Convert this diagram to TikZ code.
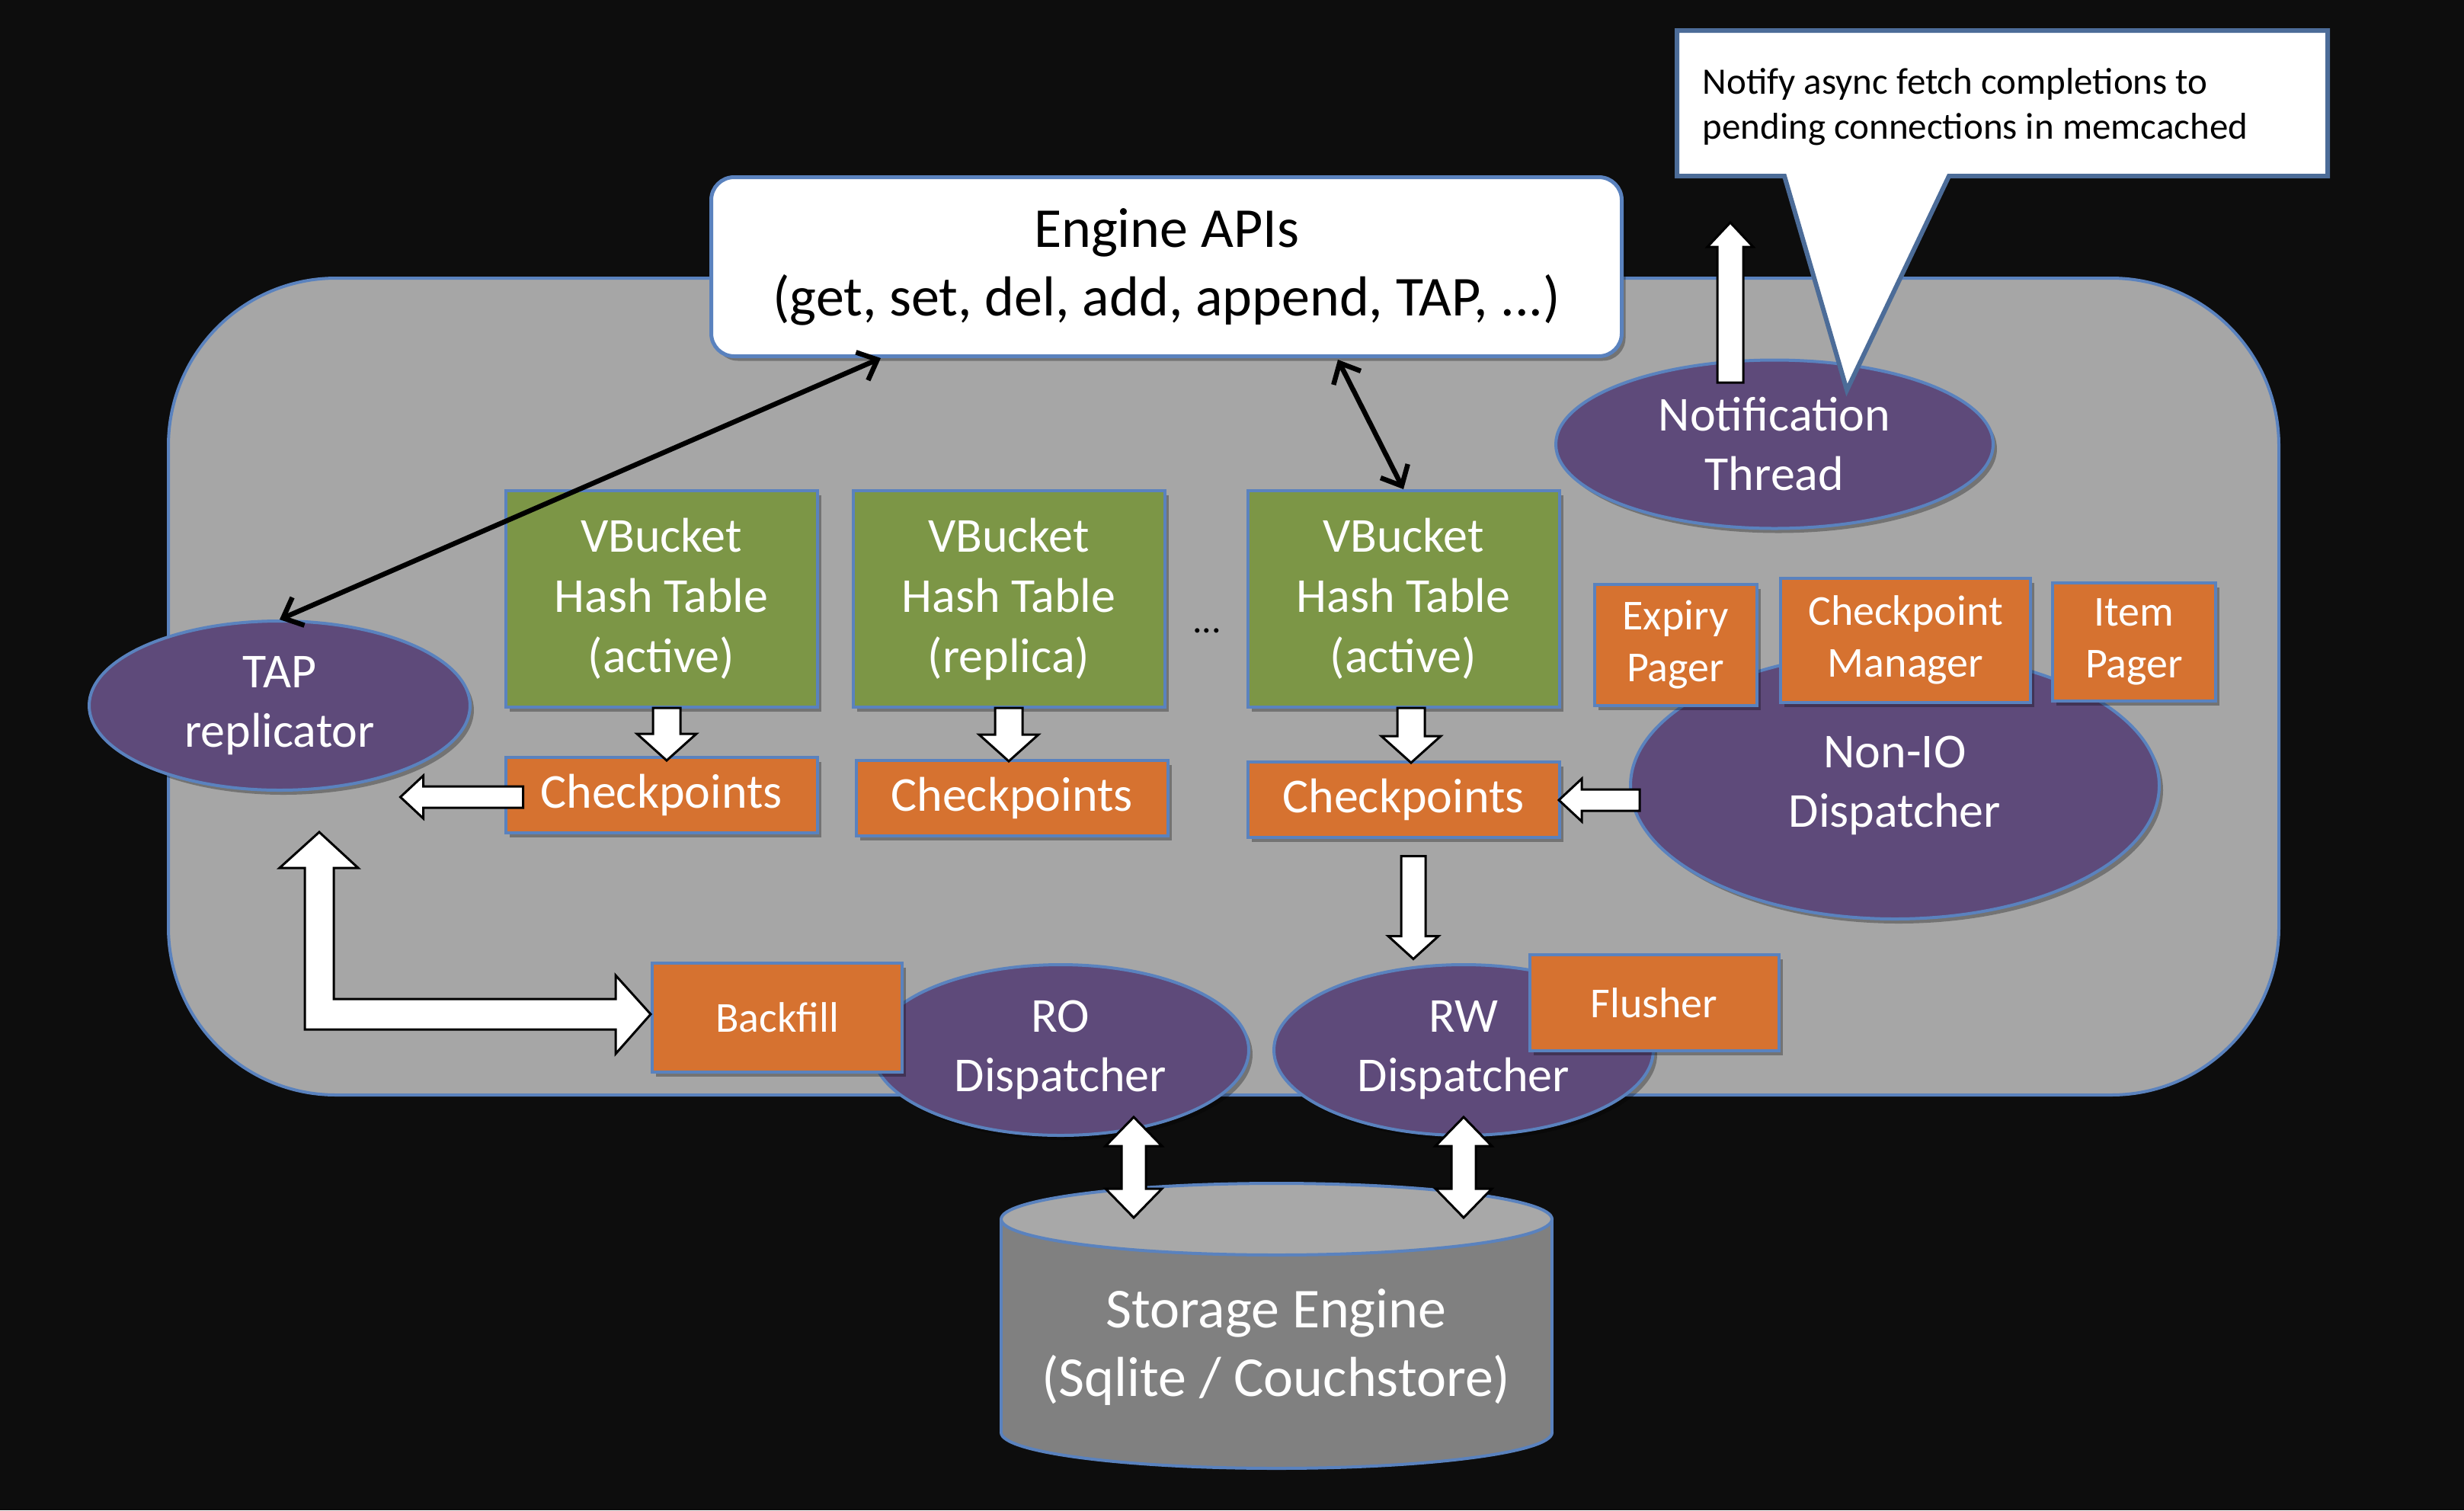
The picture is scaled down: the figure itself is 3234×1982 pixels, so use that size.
\documentclass[tikz,border=0pt]{standalone}
\usepackage{fontspec}
\setmainfont{Carlito}
\usetikzlibrary{shapes.geometric,arrows.meta,shadows,calc}
\definecolor{bgblack}{HTML}{0D0D0D}
\definecolor{panelgray}{HTML}{A6A6A6}
\definecolor{bordblue}{HTML}{5A82BE}
\definecolor{callblue}{HTML}{4C6C98}
\definecolor{purp}{HTML}{5E4A7A}
\definecolor{olive}{HTML}{7C9646}
\definecolor{orng}{HTML}{D67230}
\definecolor{cyltopc}{HTML}{A8A8A8}
\definecolor{cylbodyc}{HTML}{808080}
% block arrow: start coord, angle, length, shaft half width, head half width, head length
\newcommand{\blkarr}[6]{%
  \draw[blockarrow, shift={#1}, rotate=#2] (0,-#4) -- ({#3-#6},-#4) -- ({#3-#6},-#5) -- (#3,0) -- ({#3-#6},#5) -- ({#3-#6},#4) -- (0,#4) -- cycle;}
\newcommand{\dblarr}[6]{%
  \draw[blockarrow, shift={#1}, rotate=#2] (0,0) -- (#6,-#5) -- (#6,-#4) -- ({#3-#6},-#4) -- ({#3-#6},-#5) -- (#3,0) -- ({#3-#6},#5) -- ({#3-#6},#4) -- (#6,#4) -- (#6,#5) -- cycle;}
\begin{document}
\begin{tikzpicture}[x=1pt,y=-1pt,
  shadowed/.style={drop shadow={shadow xshift=5pt,shadow yshift=-6pt,opacity=0.3,fill=black}},
  panelbox/.style={rectangle, rounded corners=220pt, fill=panelgray, draw=bordblue, line width=4pt, minimum width=2770pt, minimum height=1072pt, inner sep=0pt},
  apibox/.style={rectangle, rounded corners=30pt, fill=white, draw=bordblue, line width=5pt, minimum width=1195pt, minimum height=235pt, align=center, font=\fontsize{74}{90}\selectfont, shadowed},
  purpell/.style={ellipse, fill=purp, draw=bordblue, line width=4pt, inner sep=0pt, text=white, align=center, font=\fontsize{64}{78}\selectfont, shadowed},
  vbbox/.style={rectangle, fill=olive, draw=bordblue, line width=4pt, minimum width=409pt, minimum height=284pt, inner sep=0pt, text=white, align=center, font=\fontsize{64}{79}\selectfont, shadowed},
  orbox/.style={rectangle, fill=orng, draw=bordblue, line width=4pt, inner sep=0pt, text=white, align=center, shadowed},
  chkbox/.style={orbox, minimum width=409pt, minimum height=99pt, font=\fontsize{64}{78}\selectfont},
  smallbox/.style={orbox, font=\fontsize{56}{68}\selectfont},
  blockarrow/.style={fill=white, draw=black, line width=3pt, line join=miter},
  thinarrow/.style={draw=black, line width=6.5pt, arrows={Straight Barb[length=22pt,width=40pt]-Straight Barb[length=22pt,width=40pt]}},
  cylborder/.style={draw=bordblue, line width=4pt}
]
\useasboundingbox (0,0) rectangle (3234,1982);
\fill[bgblack] (0,0) rectangle (3234,1982);

% main panel
\node[panelbox] (panel) at (1606,901) {};

% engine APIs
\node[apibox] (engine) at (1531,350) {Engine APIs\\(get, set, del, add, append, TAP, ...)};

% notification thread
\node[purpell, minimum width=574pt, minimum height=221pt] (notif) at (2329,583) {Notification\\Thread};
\blkarr{(2271,502)}{90}{210}{17}{30}{32}

% callout
\draw[fill=white, draw=callblue, line width=6pt] (2201,40) -- (3055,40) -- (3055,231) -- (2558,231) -- (2424,512) -- (2342,231) -- (2201,231) -- cycle;
\node[anchor=west, align=left, text=black, font=\fontsize{49}{59}\selectfont] (calltext) at (2231,140) {Notify async fetch completions to\\pending connections in memcached};

% TAP replicator
\node[purpell, minimum width=500pt, minimum height=222pt] (tap) at (367,926) {TAP\\replicator};

% VBuckets
\node[vbbox] (vb1) at (868,786) {VBucket\\Hash Table\\(active)};
\node[vbbox] (vb2) at (1324,786) {VBucket\\Hash Table\\(replica)};
\node[vbbox] (vb3) at (1842,786) {VBucket\\Hash Table\\(active)};
\node[text=black, font=\fontsize{50}{60}\selectfont] (dots) at (1584,828) {...};

% checkpoints
\node[chkbox] (chk1) at (868,1043) {Checkpoints};
\node[chkbox] (chk2) at (1328,1047) {Checkpoints};
\node[chkbox] (chk3) at (1842,1049) {Checkpoints};

% Non-IO dispatcher and its tasks
\node[purpell, minimum width=694pt, minimum height=350pt] (nonio) at (2487,1031) {Non-IO\\Dispatcher};
\node[smallbox, minimum width=213pt, minimum height=159pt] (expiry) at (2199,846) {Expiry\\Pager};
\node[smallbox, minimum width=328pt, minimum height=163pt] (cpm) at (2501,840) {Checkpoint\\Manager};
\node[smallbox, minimum width=214pt, minimum height=155pt] (itempager) at (2801,842) {Item\\Pager};

% dispatchers
\node[purpell, minimum width=494pt, minimum height=224pt] (ro) at (1392,1378) {RO\\Dispatcher};
\node[purpell, minimum width=498pt, minimum height=224pt] (rw) at (1921,1378) {RW\\Dispatcher};
\node[smallbox, minimum width=328pt, minimum height=143pt] (backfill) at (1020,1335) {Backfill};
\node[smallbox, minimum width=327pt, minimum height=126pt] (flusher) at (2171,1316) {Flusher};

% storage engine cylinder
\draw[cylborder, fill=cylbodyc] (1675.5,1880) ellipse[x radius=361.5, y radius=47];
\fill[cylbodyc] (1314,1600) rectangle (2037,1880);
\draw[cylborder] (1314,1600) -- (1314,1880);
\draw[cylborder] (2037,1600) -- (2037,1880);
\draw[cylborder, fill=cyltopc] (1675.5,1600) ellipse[x radius=361.5, y radius=47];
\node[text=white, align=center, font=\fontsize{74}{90}\selectfont] (storage) at (1675,1768) {Storage Engine\\(Sqlite / Couchstore)};

% block arrows
\blkarr{($(vb1.south)+(7,-1)$)}{-90}{69}{18}{39}{35}
\blkarr{($(vb2.south)+(0,-1)$)}{-90}{70}{18}{39}{35}
\blkarr{($(vb3.south)+(10,-1)$)}{-90}{72}{18}{39}{35}
\blkarr{($(chk1.west)+(25,3)$)}{180}{161}{14}{28}{30}
\blkarr{(2152,1050)}{180}{106}{14}{28}{30}
\blkarr{($(chk3.south)+(13,23)$)}{-90}{135}{16}{33}{30}
\dblarr{(1488,1466)}{-90}{132}{16}{37}{38}
\dblarr{(1921,1466)}{-90}{132}{16}{37}{38}

% L-shaped arrow TAP <-> Backfill
\coordinate (ltip) at (419,1092);
\coordinate (rtip) at (854,1331);
\draw[blockarrow] (ltip) -- (470,1139) -- (438,1139) -- (438,1311) -- (808,1311) -- (808,1280) -- (rtip) -- (808,1383) -- (808,1351) -- (400,1351) -- (400,1139) -- (367,1139) -- cycle;

% thin arrows
\draw[thinarrow] (tap.north) -- ($(engine.south west)+(225,0)$);
\draw[thinarrow] ($(engine.south west)+(825,2)$) -- (vb3.north);
\end{tikzpicture}
\end{document}
